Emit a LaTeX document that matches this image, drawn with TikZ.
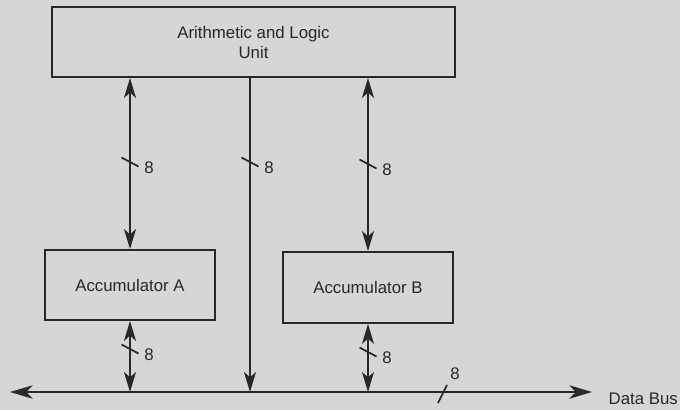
\documentclass[tikz,border=0pt]{standalone}
\usepackage{fontspec}
\setmainfont{Liberation Sans}
\usetikzlibrary{arrows.meta}
\definecolor{paper}{RGB}{214,214,212}
\definecolor{ink}{RGB}{40,40,40}
\begin{document}
\begin{tikzpicture}[x=0.75pt,y=-0.75pt,
  every node/.style={font=\fontsize{12.6}{15}\selectfont, text=ink},
  blk/.style={draw=ink, line width=1.4pt, fill=none, inner sep=0pt, align=center},
  wire/.style={draw=ink, line width=1.3pt},
  tip/.style={-{Stealth[length=15pt,width=9pt,inset=4pt]}},
  dtip/.style={{Stealth[length=15pt,width=9pt,inset=4pt]}-{Stealth[length=15pt,width=9pt,inset=4pt]}},
  bustip/.style={{Stealth[length=17pt,width=10pt,inset=5pt]}-{Stealth[length=17pt,width=10pt,inset=5pt]}},
  slash/.style={draw=ink, line width=1.3pt}]
\fill[paper] (0,0) rectangle (680,410);
\useasboundingbox (0,0) rectangle (680,410);

\node[blk, minimum width=403*0.75pt, minimum height=70*0.75pt] (alu) at (253.5,42) {Arithmetic and Logic\\Unit};
\node[blk, minimum width=170*0.75pt, minimum height=70*0.75pt] (acca) at (130,285) {Accumulator A};
\node[blk, minimum width=170*0.75pt, minimum height=71*0.75pt] (accb) at (368,287.5) {Accumulator B};

\coordinate (busL) at (10,392);
\coordinate (busR) at (592,392);
\coordinate (m) at (250,392);
\coordinate (ma) at (130,392);
\coordinate (mb) at (368,392);

% data bus
\draw[wire, bustip] (busL) -- (busR);
\node[anchor=west] (db) at (604,399) {Data Bus};

% ALU <-> Acc A
\draw[wire, dtip] (alu.south -| acca) -- (acca.north);
% ALU -> bus
\draw[wire, tip] (alu.south -| m) -- (m);
% ALU <-> Acc B
\draw[wire, dtip] (alu.south -| accb) -- (accb.north);
% Acc A <-> bus
\draw[wire, dtip] (acca.south) -- (ma);
% Acc B <-> bus
\draw[wire, dtip] (accb.south) -- (mb);

% width marks
\foreach \cx/\cy/\nm in {130/162/la, 250/162/lm, 368/164/lr, 130/349/lba, 368/352/lbb}{
  \draw[slash] (\cx-8.5,\cy-4.5) -- (\cx+8.5,\cy+4.5);
  \node (\nm) at (\cx+19,\cy+6) {8};
}
\draw[slash] (438,403) -- (447,385);
\node (lbus) at (455,374) {8};
\end{tikzpicture}
\end{document}
